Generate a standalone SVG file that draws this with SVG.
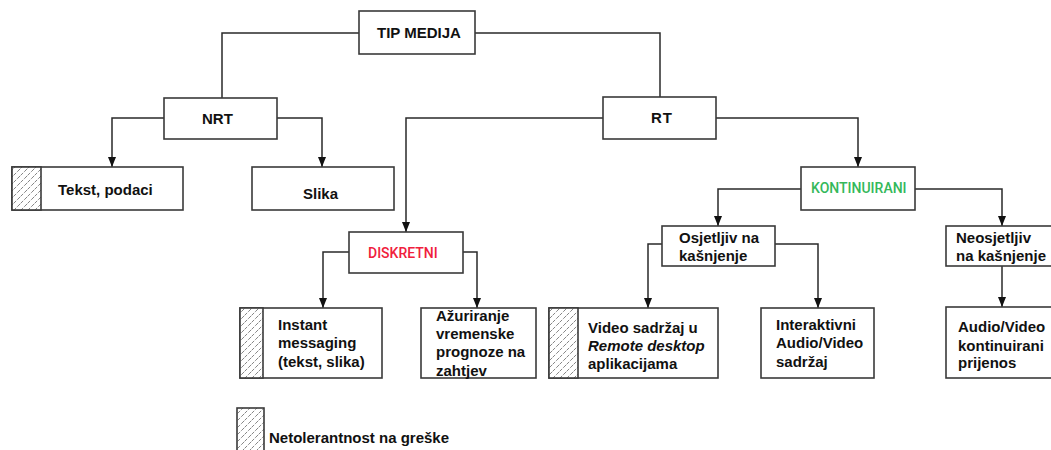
<svg xmlns="http://www.w3.org/2000/svg" width="1051" height="450" viewBox="0 0 1051 450">
<style>
.box{fill:#fff;stroke:#3a3a3a;stroke-width:1.6}
.hatch{fill:url(#hp);stroke:#3a3a3a;stroke-width:1.6}
.t{font-family:"Liberation Sans",Arial,sans-serif;font-weight:bold;font-size:15px;fill:#111}
.r{font-family:Roboto,"Liberation Sans",sans-serif;font-weight:500;font-size:14px}
.c{fill:none;stroke:#2a2a2a;stroke-width:1.5}
</style>
<defs>
<pattern id="hp" patternUnits="userSpaceOnUse" width="7" height="7">
<rect width="7" height="7" fill="#fff"/>
<path d="M-1,8 L8,-1" stroke="#777" stroke-width="0.9" stroke-dasharray="4.5 1.5"/>
</pattern>
<marker id="ar" viewBox="0 0 10 8" refX="10" refY="4" markerWidth="10" markerHeight="8" markerUnits="userSpaceOnUse" orient="auto">
<path d="M0,0 L10,4 L0,8 Z" fill="#111"/>
</marker>
</defs>
<rect width="1051" height="450" fill="#fff"/>
<g id="connectors">
<path class="c" d="M359,33 H222 V98"/>
<path class="c" d="M475,33 H660 V97"/>
<path class="c" d="M164,118 H112 V167" marker-end="url(#ar)"/>
<path class="c" d="M277,118 H322 V167" marker-end="url(#ar)"/>
<path class="c" d="M603,118 H406 V232" marker-end="url(#ar)"/>
<path class="c" d="M716,118 H858 V167" marker-end="url(#ar)"/>
<path class="c" d="M349,252 H323 V308" marker-end="url(#ar)"/>
<path class="c" d="M463,252 H477 V308" marker-end="url(#ar)"/>
<path class="c" d="M801,189 H718 V226" marker-end="url(#ar)"/>
<path class="c" d="M915,189 H1002 V226" marker-end="url(#ar)"/>
<path class="c" d="M662,244 H648 V308" marker-end="url(#ar)"/>
<path class="c" d="M775,244 H818 V308" marker-end="url(#ar)"/>
<path class="c" d="M1002,266 V307" marker-end="url(#ar)"/>
</g>
<g id="tip-medija">
<rect class="box" x="359" y="11" width="116" height="43"/>
<text class="t" x="377" y="38">TIP MEDIJA</text>
</g>
<g id="nrt">
<rect class="box" x="164" y="98" width="113" height="41"/>
<text class="t" x="202" y="124">NRT</text>
</g>
<g id="rt">
<rect class="box" x="603" y="97" width="113" height="42"/>
<text class="t" x="651" y="123" letter-spacing="1">RT</text>
</g>
<g id="tekst">
<rect class="box" x="12" y="167" width="171" height="43"/>
<rect class="hatch" x="12" y="167" width="29" height="43"/>
<text class="t" x="58" y="195">Tekst, podaci</text>
</g>
<g id="slika">
<rect class="box" x="252" y="167" width="142" height="43"/>
<text class="t" x="303" y="199">Slika</text>
</g>
<g id="kontinuirani">
<rect class="box" x="801" y="167" width="114" height="43"/>
<text class="r" x="811" y="193" fill="#34b85a">KONTINUIRANI</text>
</g>
<g id="diskretni">
<rect class="box" x="349" y="232" width="114" height="41"/>
<text class="r" x="368" y="258" fill="#f0203c">DISKRETNI</text>
</g>
<g id="osjetljiv">
<rect class="box" x="662" y="226" width="113" height="40"/>
<text class="t" x="679" y="243">Osjetljiv na</text>
<text class="t" x="679" y="261">kašnjenje</text>
</g>
<g id="neosjetljiv">
<rect class="box" x="946" y="226" width="115" height="40"/>
<text class="t" x="956" y="243">Neosjetljiv</text>
<text class="t" x="956" y="261">na kašnjenje</text>
</g>
<g id="instant">
<rect class="box" x="240" y="308" width="142" height="70"/>
<rect class="hatch" x="240" y="308" width="23" height="70"/>
<text class="t" x="278" y="330">Instant</text>
<text class="t" x="278" y="348">messaging</text>
<text class="t" x="278" y="367">(tekst, slika)</text>
</g>
<g id="azuriranje">
<rect class="box" x="421" y="308" width="115" height="70"/>
<text class="t" x="436" y="321">Ažuriranje</text>
<text class="t" x="436" y="339">vremenske</text>
<text class="t" x="436" y="357">prognoze na</text>
<text class="t" x="436" y="376">zahtjev</text>
</g>
<g id="video">
<rect class="box" x="549" y="308" width="169" height="70"/>
<rect class="hatch" x="549" y="308" width="29" height="70"/>
<text class="t" x="588" y="333">Video sadržaj u</text>
<text class="t" x="588" y="351" font-style="italic">Remote desktop</text>
<text class="t" x="588" y="369">aplikacijama</text>
</g>
<g id="interaktivni">
<rect class="box" x="761" y="308" width="113" height="70"/>
<text class="t" x="776" y="330">Interaktivni</text>
<text class="t" x="776" y="348">Audio/Video</text>
<text class="t" x="776" y="367">sadržaj</text>
</g>
<g id="audio-video">
<rect class="box" x="946" y="307" width="115" height="71"/>
<text class="t" x="958" y="332">Audio/Video</text>
<text class="t" x="958" y="351">kontinuirani</text>
<text class="t" x="958" y="368">prijenos</text>
</g>
<g id="legend">
<rect class="hatch" x="237" y="408" width="27" height="46"/>
<text class="t" x="269" y="443">Netolerantnost na greške</text>
</g>
</svg>
